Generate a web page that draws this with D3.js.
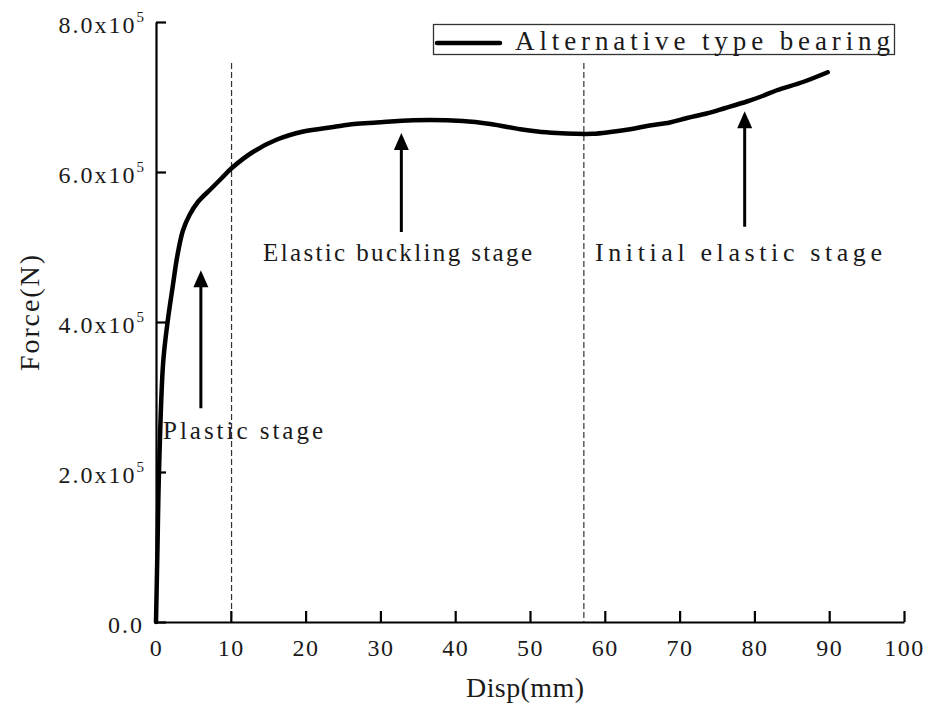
<!DOCTYPE html>
<html>
<head>
<meta charset="utf-8">
<script src="https://cdn.jsdelivr.net/npm/d3@7"></script>
<style>
  body { margin: 0; background: #fff; }
  text { font-family: "Liberation Serif", "DejaVu Serif", serif; fill: #1a1a1a; }
</style>
</head>
<body>
<div id="chart"></div>
<script>
// curve: displacement (mm) and force (N)
let dispData = [0, 0.2, 0.4, 0.95, 1.55, 2.2, 2.85, 3.6, 4.5, 5.6, 7.4, 8.8, 10.1, 13, 16.1, 19.7, 23.7, 26.5, 29.5, 34.4, 41, 44.7, 48.7, 51, 53.6, 56, 58.4, 60.5, 63.4, 66, 68.7, 71, 73.6, 76, 79, 81, 83, 86.5, 89.8];
let forceData = [0, 100000, 200000, 345000, 400000, 445000, 488000, 522000, 543000, 560000, 578000, 592000, 605000, 627000, 643000, 654000, 660000, 664000, 666000, 669000, 668000, 664000, 657000, 654000, 652000, 651000, 651000, 653000, 657000, 662000, 666000, 672000, 678000, 685000, 694000, 701000, 709000, 720000, 733000];

let xTicks = [0, 10, 20, 30, 40, 50, 60, 70, 80, 90, 100];
let yTicks = [0, 200000, 400000, 600000, 800000];
let yTickMain = ["0.0", "2.0x10", "4.0x10", "6.0x10", "8.0x10"];
let yTickSup = ["", "5", "5", "5", "5"];

// stage boundaries (mm)
let stageLines = [10.1, 57.2];

// annotations: label, arrow x, arrow tail force, arrow tip force
let stageLabels = ["Plastic stage", "Elastic buckling stage", "Initial elastic stage"];
let arrowDisp = [6, 32.8, 78.7];
let arrowTail = [285000, 520000, 527000];
let arrowTip = [469000, 652000, 681000];

let legendLabel = "Alternative type bearing";

const width = 933;
const height = 704;
let plotLeft = 156, plotRight = 904, plotTop = 22, plotBottom = 622;

var svg = d3.select("#chart")
    .append("svg")
    .attr("width", width)
    .attr("height", height);

var x = d3.scaleLinear().domain([0, 100]).range([plotLeft, plotRight]);
var y = d3.scaleLinear().domain([0, 800000]).range([plotBottom, plotTop]);

// dashed stage boundaries
svg.append("g")
    .selectAll("line")
    .data(stageLines)
    .enter().append("line")
    .attr("x1", d => x(d))
    .attr("x2", d => x(d))
    .attr("y1", 63)
    .attr("y2", plotBottom)
    .attr("stroke", "#333")
    .attr("stroke-width", 1.2)
    .attr("stroke-dasharray", "6,3");

// x axis, ticks pointing inward
var xAxis = svg.append("g")
    .attr("transform", "translate(0," + plotBottom + ")")
    .call(d3.axisBottom(x).tickValues(xTicks).tickSize(-11).tickSizeOuter(0).tickPadding(17));

// y axis
var yAxis = svg.append("g")
    .attr("transform", "translate(" + plotLeft + ",0)")
    .call(d3.axisLeft(y).tickValues(yTicks).tickSize(-10).tickSizeOuter(0).tickPadding(12));

[xAxis, yAxis].forEach(function(ax) {
    ax.select(".domain").attr("stroke", "#000").attr("stroke-width", 2.2);
    ax.selectAll(".tick line").attr("stroke", "#000").attr("stroke-width", 2.2);
    ax.selectAll(".tick text")
        .style("font-family", "'Liberation Serif', serif")
        .attr("font-size", 24)
        .attr("fill", "#1a1a1a");
});

xAxis.selectAll(".tick text").attr("letter-spacing", 1.5);

yAxis.selectAll(".tick text")
    .text(null)
    .attr("dy", "0.45em")
    .attr("letter-spacing", 2)
    .each(function(d, i) {
        let t = d3.select(this);
        t.append("tspan").text(yTickMain[i]);
        if (yTickSup[i] !== "") {
            t.append("tspan")
                .attr("dy", -11)
                .attr("font-size", 15)
                .attr("letter-spacing", 0)
                .text(yTickSup[i]);
        }
    });

// axis titles
svg.append("text")
    .attr("x", 525)
    .attr("y", 697)
    .attr("text-anchor", "middle")
    .attr("font-size", 28)
    .attr("textLength", 118)
    .attr("lengthAdjust", "spacing")
    .text("Disp(mm)");

svg.append("text")
    .attr("transform", "translate(39,313) rotate(-90)")
    .attr("text-anchor", "middle")
    .attr("font-size", 28)
    .attr("textLength", 116)
    .attr("lengthAdjust", "spacing")
    .text("Force(N)");

// the force-displacement curve
var line = d3.line()
    .x((d, i) => x(dispData[i]))
    .y((d, i) => y(forceData[i]))
    .curve(d3.curveCatmullRom.alpha(0.5));

svg.append("path")
    .datum(forceData)
    .attr("d", line)
    .attr("fill", "none")
    .attr("stroke", "#000")
    .attr("stroke-width", 4.5)
    .attr("stroke-linejoin", "round")
    .attr("stroke-linecap", "round");

// arrows
let headLen = 17, headHalf = 7.5;
arrowDisp.forEach(function(d, i) {
    let ax = x(d);
    let tipY = y(arrowTip[i]);
    svg.append("line")
        .attr("x1", ax)
        .attr("x2", ax)
        .attr("y1", y(arrowTail[i]))
        .attr("y2", tipY + headLen - 2)
        .attr("stroke", "#000")
        .attr("stroke-width", 3);
    svg.append("path")
        .attr("d", "M" + ax + "," + tipY + "L" + (ax - headHalf) + "," + (tipY + headLen) + "L" + (ax + headHalf) + "," + (tipY + headLen) + "Z")
        .attr("fill", "#000");
});

// stage labels
let labelX = [163, 263, 595];
let labelY = [439, 261, 261];
let labelLen = [160, 269, 287];
svg.append("g")
    .selectAll("text")
    .data(stageLabels)
    .enter().append("text")
    .attr("x", (d, i) => labelX[i])
    .attr("y", (d, i) => labelY[i])
    .attr("font-size", (d, i) => i == 2 ? 26 : 25)
    .attr("textLength", (d, i) => labelLen[i])
    .attr("lengthAdjust", "spacing")
    .text(d => d);

// legend
var legend = svg.append("g");
legend.append("rect")
    .attr("x", 433.5)
    .attr("y", 24.5)
    .attr("width", 461)
    .attr("height", 30)
    .attr("fill", "#fff")
    .attr("stroke", "#333")
    .attr("stroke-width", 1.3);
legend.append("line")
    .attr("x1", 437)
    .attr("x2", 500)
    .attr("y1", 43)
    .attr("y2", 43)
    .attr("stroke", "#000")
    .attr("stroke-width", 4.5)
    .attr("stroke-linecap", "round");
legend.append("text")
    .attr("x", 515)
    .attr("y", 50)
    .attr("font-size", 27)
    .attr("textLength", 375)
    .attr("lengthAdjust", "spacing")
    .text(legendLabel);
</script>
</body>
</html>
